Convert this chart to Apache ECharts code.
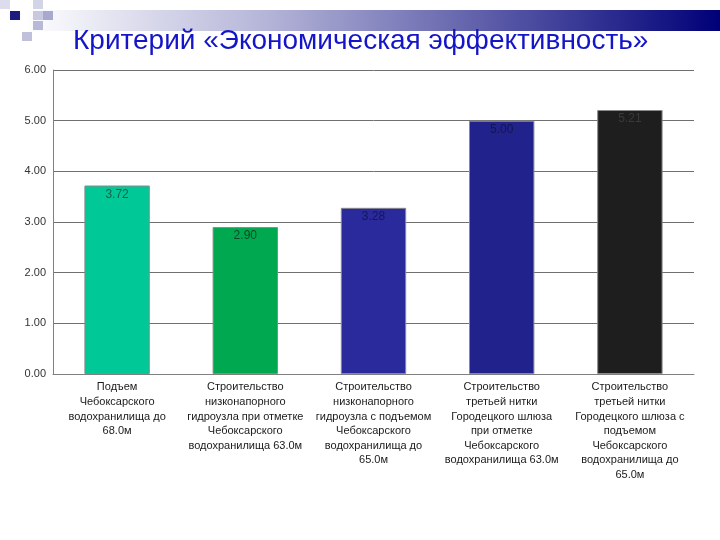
<!DOCTYPE html>
<html><head><meta charset="utf-8">
<script src="https://cdn.jsdelivr.net/npm/echarts@6/dist/echarts.min.js"></script>
<style>html,body{margin:0;padding:0;background:#fff}#c{width:720px;height:540px}</style>
</head><body><div id="c"></div>
<script>
var titleText = 'Критерий «Экономическая эффективность»';
var categories = [
  'Подъем\nЧебоксарского\nводохранилища до\n68.0м',
  'Строительство\nнизконапорного\nгидроузла при отметке\nЧебоксарского\nводохранилища 63.0м',
  'Строительство\nнизконапорного\nгидроузла с подъемом\nЧебоксарского\nводохранилища до\n65.0м',
  'Строительство\nтретьей нитки\nГородецкого шлюза\nпри отметке\nЧебоксарского\nводохранилища 63.0м',
  'Строительство\nтретьей нитки\nГородецкого шлюза с\nподъемом\nЧебоксарского\nводохранилища до\n65.0м'
];
var values = [3.72, 2.90, 3.28, 5.00, 5.21];
var barColors = ['#00C896', '#00A84F', '#2A2A9C', '#22228C', '#1E1E1E'];
var labelColors = ['#13604c', '#0f4a25', '#16165a', '#15154f', '#3a3a3a'];

var chart = echarts.init(document.getElementById('c'), null, {renderer: 'canvas'});
var sq = function (x, y, c) { return {type: 'rect', shape: {x: x, y: y, width: 10, height: 9}, style: {fill: c}, silent: true}; };
chart.setOption({
  animation: false,
  backgroundColor: '#fff',
  graphic: [
    {type: 'rect', shape: {x: 25, y: 10, width: 695, height: 21},
     style: {fill: new echarts.graphic.LinearGradient(0, 0, 1, 0, [
       {offset: 0, color: '#ffffff'}, {offset: 0.35, color: '#b4b4d8'}, {offset: 1, color: '#000078'}])}, silent: true},
    sq(0, 0, '#dcdcec'), sq(33, 0, '#d4d4e8'),
    sq(10, 11, '#1c1c80'), sq(33, 11, '#c8c8e0'), sq(43, 11, '#a8a8d0'),
    sq(33, 21, '#b8b8d8'), sq(22, 32, '#c0c0dc'),
    {type: 'text', left: 73, top: 27, style: {text: titleText, fill: '#1414C8', font: '28px "Liberation Sans", Arial, sans-serif'}, silent: true}
  ],
  grid: {left: 53, right: 26, top: 70, bottom: 166},
  xAxis: {
    type: 'category', data: categories,
    axisLine: {lineStyle: {color: '#808080', width: 1}},
    axisTick: {show: false},
    axisLabel: {interval: 0, color: '#1a1a1a', fontSize: 11, lineHeight: 14.6, margin: 6,
      fontFamily: '"Liberation Sans", Arial, sans-serif'}
  },
  yAxis: {
    type: 'value', min: 0, max: 6, interval: 1,
    axisLine: {show: true, lineStyle: {color: '#808080'}},
    axisTick: {show: false},
    axisLabel: {color: '#333', fontSize: 11, margin: 7, formatter: function (v) { return v.toFixed(2); },
      fontFamily: '"Liberation Sans", Arial, sans-serif'},
    splitLine: {lineStyle: {color: '#707070', width: 1}}
  },
  series: [{
    type: 'bar', barWidth: '51%',
    data: values.map(function (v, i) {
      return {value: v, itemStyle: {color: barColors[i]}, label: {color: labelColors[i]}};
    }),
    itemStyle: {borderColor: '#8a8a8a', borderWidth: 1},
    label: {show: true, position: 'insideTop', distance: 3, fontSize: 12,
      fontFamily: '"Liberation Sans", Arial, sans-serif',
      formatter: function (p) { return p.value.toFixed(2); }}
  }]
});
</script></body></html>
